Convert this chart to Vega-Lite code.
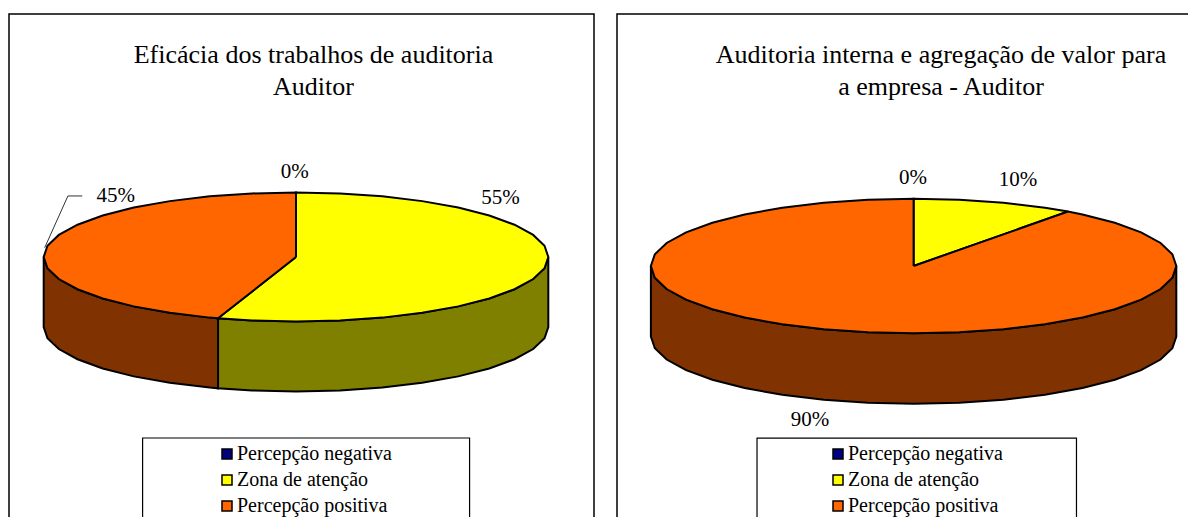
{
"$schema":"https://vega.github.io/schema/vega-lite/v6.json",
"background":"white",
"padding":{"left":8,"top":13,"right":0,"bottom":0},
"spacing":21,
"config":{"view":{"stroke":"black","strokeWidth":1.5,"fill":"white"},"font":"Liberation Serif"},
"resolve":{"scale":{"fill":"independent","x":"independent","y":"independent"},"legend":{"fill":"independent"}},
"datasets":{
"aTop":[
{"series":"Zona de atenção","o":0,"x":0,"y":0},{"series":"Zona de atenção","o":1,"x":0,"y":1},{"series":"Zona de atenção","o":2,"x":0.174,"y":0.985},{"series":"Zona de atenção","o":3,"x":0.342,"y":0.94},{"series":"Zona de atenção","o":4,"x":0.5,"y":0.866},{"series":"Zona de atenção","o":5,"x":0.643,"y":0.766},{"series":"Zona de atenção","o":6,"x":0.766,"y":0.643},{"series":"Zona de atenção","o":7,"x":0.866,"y":0.5},{"series":"Zona de atenção","o":8,"x":0.94,"y":0.342},{"series":"Zona de atenção","o":9,"x":0.985,"y":0.174},{"series":"Zona de atenção","o":10,"x":1,"y":0},{"series":"Zona de atenção","o":11,"x":0.985,"y":-0.174},{"series":"Zona de atenção","o":12,"x":0.94,"y":-0.342},{"series":"Zona de atenção","o":13,"x":0.866,"y":-0.5},{"series":"Zona de atenção","o":14,"x":0.766,"y":-0.643},{"series":"Zona de atenção","o":15,"x":0.643,"y":-0.766},{"series":"Zona de atenção","o":16,"x":0.5,"y":-0.866},{"series":"Zona de atenção","o":17,"x":0.342,"y":-0.94},{"series":"Zona de atenção","o":18,"x":0.174,"y":-0.985},{"series":"Zona de atenção","o":19,"x":0,"y":-1},{"series":"Zona de atenção","o":20,"x":-0.174,"y":-0.985},{"series":"Zona de atenção","o":21,"x":-0.309,"y":-0.951},{"series":"Zona de atenção","o":22,"x":0,"y":0},
{"series":"Percepção positiva","o":0,"x":0,"y":0},{"series":"Percepção positiva","o":1,"x":-0.309,"y":-0.951},{"series":"Percepção positiva","o":2,"x":-0.342,"y":-0.94},{"series":"Percepção positiva","o":3,"x":-0.5,"y":-0.866},{"series":"Percepção positiva","o":4,"x":-0.643,"y":-0.766},{"series":"Percepção positiva","o":5,"x":-0.766,"y":-0.643},{"series":"Percepção positiva","o":6,"x":-0.866,"y":-0.5},{"series":"Percepção positiva","o":7,"x":-0.94,"y":-0.342},{"series":"Percepção positiva","o":8,"x":-0.985,"y":-0.174},{"series":"Percepção positiva","o":9,"x":-1,"y":0},{"series":"Percepção positiva","o":10,"x":-0.985,"y":0.174},{"series":"Percepção positiva","o":11,"x":-0.94,"y":0.342},{"series":"Percepção positiva","o":12,"x":-0.866,"y":0.5},{"series":"Percepção positiva","o":13,"x":-0.766,"y":0.643},{"series":"Percepção positiva","o":14,"x":-0.643,"y":0.766},{"series":"Percepção positiva","o":15,"x":-0.5,"y":0.866},{"series":"Percepção positiva","o":16,"x":-0.342,"y":0.94},{"series":"Percepção positiva","o":17,"x":-0.174,"y":0.985},{"series":"Percepção positiva","o":18,"x":0,"y":1},{"series":"Percepção positiva","o":19,"x":0,"y":0}
],
"aSideY":[
{"x":1,"y":0,"y2":-1.085},{"x":0.985,"y":-0.174,"y2":-1.259},{"x":0.94,"y":-0.342,"y2":-1.427},{"x":0.866,"y":-0.5,"y2":-1.585},{"x":0.766,"y":-0.643,"y2":-1.728},{"x":0.643,"y":-0.766,"y2":-1.851},{"x":0.5,"y":-0.866,"y2":-1.951},{"x":0.342,"y":-0.94,"y2":-2.025},{"x":0.174,"y":-0.985,"y2":-2.07},{"x":0,"y":-1,"y2":-2.085},{"x":-0.174,"y":-0.985,"y2":-2.07},{"x":-0.309,"y":-0.951,"y2":-2.036}
],
"aSideO":[
{"x":-0.309,"y":-0.951,"y2":-2.036},{"x":-0.342,"y":-0.94,"y2":-2.025},{"x":-0.5,"y":-0.866,"y2":-1.951},{"x":-0.643,"y":-0.766,"y2":-1.851},{"x":-0.766,"y":-0.643,"y2":-1.728},{"x":-0.866,"y":-0.5,"y2":-1.585},{"x":-0.94,"y":-0.342,"y2":-1.427},{"x":-0.985,"y":-0.174,"y2":-1.259},{"x":-1,"y":0,"y2":-1.085}
],
"bTop":[
{"series":"Zona de atenção","o":0,"x":0,"y":0},{"series":"Zona de atenção","o":1,"x":0,"y":1},{"series":"Zona de atenção","o":2,"x":0.174,"y":0.985},{"series":"Zona de atenção","o":3,"x":0.342,"y":0.94},{"series":"Zona de atenção","o":4,"x":0.5,"y":0.866},{"series":"Zona de atenção","o":5,"x":0.588,"y":0.809},{"series":"Zona de atenção","o":6,"x":0,"y":0},
{"series":"Percepção positiva","o":0,"x":0,"y":0},{"series":"Percepção positiva","o":1,"x":0.588,"y":0.809},{"series":"Percepção positiva","o":2,"x":0.643,"y":0.766},{"series":"Percepção positiva","o":3,"x":0.766,"y":0.643},{"series":"Percepção positiva","o":4,"x":0.866,"y":0.5},{"series":"Percepção positiva","o":5,"x":0.94,"y":0.342},{"series":"Percepção positiva","o":6,"x":0.985,"y":0.174},{"series":"Percepção positiva","o":7,"x":1,"y":0},{"series":"Percepção positiva","o":8,"x":0.985,"y":-0.174},{"series":"Percepção positiva","o":9,"x":0.94,"y":-0.342},{"series":"Percepção positiva","o":10,"x":0.866,"y":-0.5},{"series":"Percepção positiva","o":11,"x":0.766,"y":-0.643},{"series":"Percepção positiva","o":12,"x":0.643,"y":-0.766},{"series":"Percepção positiva","o":13,"x":0.5,"y":-0.866},{"series":"Percepção positiva","o":14,"x":0.342,"y":-0.94},{"series":"Percepção positiva","o":15,"x":0.174,"y":-0.985},{"series":"Percepção positiva","o":16,"x":0,"y":-1},{"series":"Percepção positiva","o":17,"x":-0.174,"y":-0.985},{"series":"Percepção positiva","o":18,"x":-0.342,"y":-0.94},{"series":"Percepção positiva","o":19,"x":-0.5,"y":-0.866},{"series":"Percepção positiva","o":20,"x":-0.643,"y":-0.766},{"series":"Percepção positiva","o":21,"x":-0.766,"y":-0.643},{"series":"Percepção positiva","o":22,"x":-0.866,"y":-0.5},{"series":"Percepção positiva","o":23,"x":-0.94,"y":-0.342},{"series":"Percepção positiva","o":24,"x":-0.985,"y":-0.174},{"series":"Percepção positiva","o":25,"x":-1,"y":0},{"series":"Percepção positiva","o":26,"x":-0.985,"y":0.174},{"series":"Percepção positiva","o":27,"x":-0.94,"y":0.342},{"series":"Percepção positiva","o":28,"x":-0.866,"y":0.5},{"series":"Percepção positiva","o":29,"x":-0.766,"y":0.643},{"series":"Percepção positiva","o":30,"x":-0.643,"y":0.766},{"series":"Percepção positiva","o":31,"x":-0.5,"y":0.866},{"series":"Percepção positiva","o":32,"x":-0.342,"y":0.94},{"series":"Percepção positiva","o":33,"x":-0.174,"y":0.985},{"series":"Percepção positiva","o":34,"x":0,"y":1},{"series":"Percepção positiva","o":35,"x":0,"y":0}
],
"bSideO":[
{"x":1,"y":0,"y2":-1.048},{"x":0.985,"y":-0.174,"y2":-1.222},{"x":0.94,"y":-0.342,"y2":-1.39},{"x":0.866,"y":-0.5,"y2":-1.548},{"x":0.766,"y":-0.643,"y2":-1.691},{"x":0.643,"y":-0.766,"y2":-1.814},{"x":0.5,"y":-0.866,"y2":-1.914},{"x":0.342,"y":-0.94,"y2":-1.988},{"x":0.174,"y":-0.985,"y2":-2.033},{"x":0,"y":-1,"y2":-2.048},{"x":-0.174,"y":-0.985,"y2":-2.033},{"x":-0.342,"y":-0.94,"y2":-1.988},{"x":-0.5,"y":-0.866,"y2":-1.914},{"x":-0.643,"y":-0.766,"y2":-1.814},{"x":-0.766,"y":-0.643,"y2":-1.691},{"x":-0.866,"y":-0.5,"y2":-1.548},{"x":-0.94,"y":-0.342,"y2":-1.39},{"x":-0.985,"y":-0.174,"y2":-1.222},{"x":-1,"y":0,"y2":-1.048}
]
},
"hconcat":[
{
"width":585,"height":505,
"title":{"text":["Eficácia dos trabalhos de auditoria","Auditor"],"font":"Liberation Serif","fontWeight":"normal","fontSize":26,"lineHeight":32,"color":"black","anchor":"middle","frame":"group","dx":12,"offset":-86},
"encoding":{
"x":{"field":"x","type":"quantitative","axis":null,"scale":{"domain":[-1.1375,1.1811],"nice":false,"zero":false}},
"y":{"field":"y","type":"quantitative","axis":null,"scale":{"domain":[-4.062,3.767],"nice":false,"zero":false}}
},
"layer":[
{"data":{"values":[{"x":-0.608,"x2":0.688,"y":-2.806,"y2":-4.062}]},"mark":{"type":"rect","fill":"white","stroke":"black","strokeWidth":1.2},"encoding":{"x2":{"field":"x2"},"y2":{"field":"y2"}}},
{"data":{"name":"aSideY"},"mark":{"type":"area","fill":"#808000","stroke":"black","strokeWidth":2},"encoding":{"y2":{"field":"y2"}}},
{"data":{"name":"aSideO"},"mark":{"type":"area","fill":"#803300","stroke":"black","strokeWidth":2},"encoding":{"y2":{"field":"y2"}}},
{"data":{"name":"aTop"},"mark":{"type":"line","stroke":"black","strokeWidth":2},"encoding":{
"order":{"field":"o","type":"quantitative"},
"fill":{"field":"series","type":"nominal","scale":{"domain":["Percepção negativa","Zona de atenção","Percepção positiva"],"range":["#000080","#ffff00","#ff6600"]},
"legend":{"title":null,"orient":"none","legendX":208,"legendY":430,"symbolType":"square","symbolSize":100,"symbolStrokeColor":"black","symbolStrokeWidth":1.5,"symbolOpacity":1,"labelFont":"Liberation Serif","labelFontSize":20,"labelColor":"black","labelOffset":0,"rowPadding":6,"padding":0,"values":["Percepção negativa","Zona de atenção","Percepção positiva"]}}}},
{"data":{"values":[{"x":-0.996,"y":0.144,"o":0},{"x":-0.904,"y":0.946,"o":1},{"x":-0.847,"y":0.946,"o":2}]},"mark":{"type":"line","stroke":"#333333","strokeWidth":1},"encoding":{"order":{"field":"o","type":"quantitative"}}},
{"data":{"values":[{"label":"0%","x":-0.005,"y":1.318},{"label":"55%","x":0.811,"y":0.915},{"label":"45%","x":-0.714,"y":0.946}]},"mark":{"type":"text","font":"Liberation Serif","fontSize":21,"color":"black","baseline":"middle","align":"center"},"encoding":{"text":{"field":"label"}}}
]
},
{
"width":572,"height":505,
"title":{"text":["Auditoria interna e agregação de valor para","a empresa - Auditor"],"font":"Liberation Serif","fontWeight":"normal","fontSize":26,"lineHeight":32,"color":"black","anchor":"middle","frame":"group","dx":38,"offset":-86},
"encoding":{
"x":{"field":"x","type":"quantitative","axis":null,"scale":{"domain":[-1.129,1.0483],"nice":false,"zero":false}},
"y":{"field":"y","type":"quantitative","axis":null,"scale":{"domain":[-3.759,3.744],"nice":false,"zero":false}}
},
"layer":[
{"data":{"values":[{"x":-0.596,"x2":0.62,"y":-2.556,"y2":-3.759}]},"mark":{"type":"rect","fill":"white","stroke":"black","strokeWidth":1.2},"encoding":{"x2":{"field":"x2"},"y2":{"field":"y2"}}},
{"data":{"name":"bSideO"},"mark":{"type":"area","fill":"#803300","stroke":"black","strokeWidth":2},"encoding":{"y2":{"field":"y2"}}},
{"data":{"name":"bTop"},"mark":{"type":"line","stroke":"black","strokeWidth":2},"encoding":{
"order":{"field":"o","type":"quantitative"},
"fill":{"field":"series","type":"nominal","scale":{"domain":["Percepção negativa","Zona de atenção","Percepção positiva"],"range":["#000080","#ffff00","#ff6600"]},
"legend":{"title":null,"orient":"none","legendX":211,"legendY":430,"symbolType":"square","symbolSize":100,"symbolStrokeColor":"black","symbolStrokeWidth":1.5,"symbolOpacity":1,"labelFont":"Liberation Serif","labelFontSize":20,"labelColor":"black","labelOffset":0,"rowPadding":6,"padding":0,"values":["Percepção negativa","Zona de atenção","Percepção positiva"]}}}},
{"data":{"values":[{"label":"0%","x":-0.002,"y":1.308},{"label":"10%","x":0.397,"y":1.278},{"label":"90%","x":-0.394,"y":-2.288}]},"mark":{"type":"text","font":"Liberation Serif","fontSize":21,"color":"black","baseline":"middle","align":"center"},"encoding":{"text":{"field":"label"}}}
]
}
]
}
